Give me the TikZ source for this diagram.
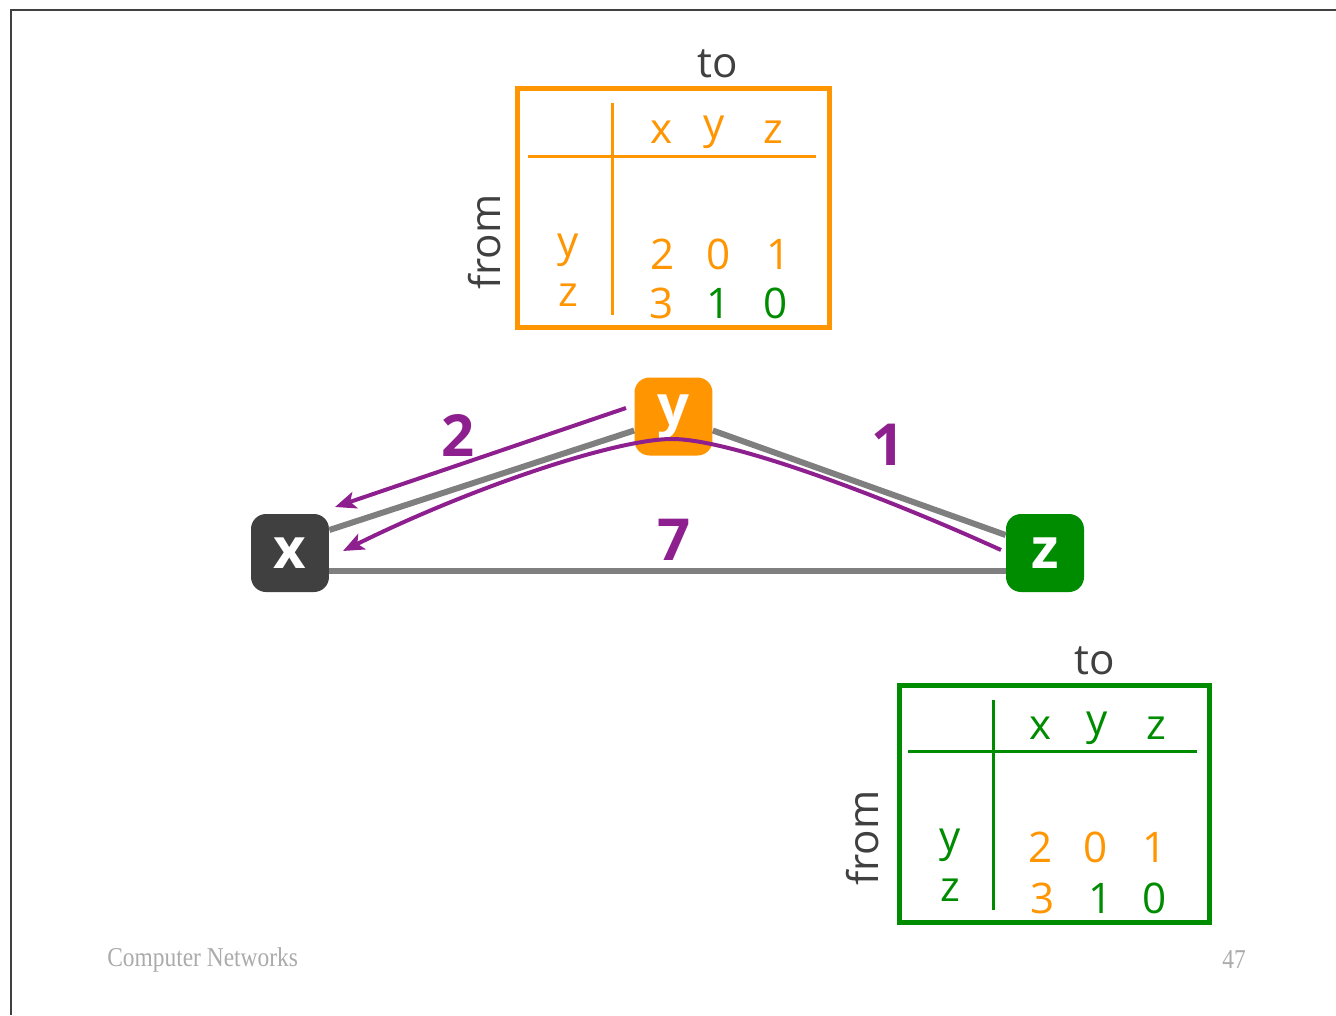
\documentclass[tikz,border=0pt]{standalone}
\usepackage{fontspec}
\setmainfont{Open Sans}
\newfontfamily\footfont[FakeStretch=0.86]{Liberation Serif}
\usetikzlibrary{arrows.meta}
\definecolor{org}{HTML}{FF9500}
\definecolor{grn}{HTML}{008C00}
\definecolor{pur}{HTML}{8E1F8E}
\definecolor{dgr}{HTML}{404040}
\definecolor{edg}{HTML}{7F7F7F}
\definecolor{ftc}{HTML}{ABABAB}
\begin{document}
\begin{tikzpicture}[x=0.02cm,y=-0.02cm,
  router/.style={rounded corners=0.3cm, minimum width=1.56cm, minimum height=1.56cm, inner sep=0pt, text=white, font=\fontsize{32}{32}\selectfont\bfseries},
  tbox/.style={line width=0.1cm, minimum width=6.26cm, minimum height=4.8cm, inner sep=0pt},
  tline/.style={line width=0.06cm},
  ttxt/.style={inner sep=0pt, font=\fontsize{24}{24}\selectfont},
  lbl/.style={inner sep=0pt, text=dgr, font=\fontsize{24}{24}\selectfont},
  edge/.style={draw=edg, line width=0.12cm},
  path/.style={draw=pur, line width=0.08cm, -{Stealth[length=0.42cm,width=0.34cm,inset=0.1cm]}},
  wlbl/.style={inner sep=0pt, text=pur, font=\fontsize{33}{33}\selectfont\bfseries},
  foot/.style={inner sep=0pt, text=ftc, font=\footfont\fontsize{15.5}{16}\selectfont}]
\useasboundingbox (0,0) rectangle (1336,1015);
\fill[white] (0,0) rectangle (1336,1015);
\draw[dgr, line width=0.6pt] (11,1015) -- (11,10) -- (1336,10);

% ---- orange table (y) ----
\node[tbox, draw=org] (tA) at (673.5,208) {};
\draw[tline, org] (612,103) -- (612,315);
\draw[tline, org] (528,156) -- (816,156);
\node[lbl] (toA) at (718,64) {to};
\node[lbl, rotate=90] (fromA) at (485,242) {from};
\node[ttxt, text=org] (hAx) at (662,132) {x};
\node[ttxt, text=org] (hAy) at (714,132) {y};
\node[ttxt, text=org] (hAz) at (773,132) {z};
\node[ttxt, text=org] (rAy) at (568,250) {y};
\node[ttxt, text=org] (rAz) at (568,295) {z};
\node[ttxt, text=org] (vA11) at (663,254) {2};
\node[ttxt, text=org] (vA12) at (719,254) {0};
\node[ttxt, text=org] (vA13) at (779,254) {1};
\node[ttxt, text=org] (vA21) at (662,303) {3};
\node[ttxt, text=grn] (vA22) at (719,303) {1};
\node[ttxt, text=grn] (vA23) at (776,303) {0};

% ---- green table (z) ----
\node[tbox, draw=grn, minimum width=6.22cm, minimum height=4.76cm] (tB) at (1054.5,804) {};
\draw[tline, grn] (993,700) -- (993,910);
\draw[tline, grn] (908,751) -- (1197,751);
\node[lbl] (toB) at (1095,661) {to};
\node[lbl, rotate=90] (fromB) at (863,838) {from};
\node[ttxt, text=grn] (hBx) at (1041,728) {x};
\node[ttxt, text=grn] (hBy) at (1097,728) {y};
\node[ttxt, text=grn] (hBz) at (1156,728) {z};
\node[ttxt, text=grn] (rBy) at (950,845) {y};
\node[ttxt, text=grn] (rBz) at (950,890) {z};
\node[ttxt, text=org] (vB11) at (1041,847) {2};
\node[ttxt, text=org] (vB12) at (1096,847) {0};
\node[ttxt, text=org] (vB13) at (1155,847) {1};
\node[ttxt, text=org] (vB21) at (1043,898) {3};
\node[ttxt, text=grn] (vB22) at (1101,898) {1};
\node[ttxt, text=grn] (vB23) at (1155,898) {0};

% ---- routers ----
\node[router, fill=dgr] (x) at (290,553) {x};
\node[router, fill=org] (y) at (673.5,416.5) {y};
\node[router, fill=grn] (z) at (1045,553) {z};

% ---- links ----
\draw[edge] ([yshift=0.46cm]x.east) -- ([yshift=-0.28cm]y.west);
\draw[edge] ([yshift=-0.28cm]y.east) -- ([yshift=0.36cm]z.west);
\draw[edge] ([yshift=-0.36cm]x.east) -- ([yshift=-0.36cm]z.west);

\node[wlbl] (w2) at (458,435) {2};
\node[wlbl] (w1) at (888,445) {1};
\node[wlbl] (w7) at (674,540) {7};

% ---- paths ----
\coordinate (p1s) at (626,408);
\coordinate (p1e) at (335,507);
\coordinate (p2s) at (1001,550);
\coordinate (p2m) at (672,439);
\coordinate (p2e) at (343,551);
\draw[path] (p1s) -- (p1e);
\draw[path] (p2s) .. controls (880,495) and (730,439) .. (p2m)
  .. controls (615,439) and (470,488) .. (p2e);

% ---- footer ----
\node[foot, anchor=west] (ft) at (107,960) {Computer Networks};
\node[foot] (pg) at (1234,960) {47};
\end{tikzpicture}
\end{document}
